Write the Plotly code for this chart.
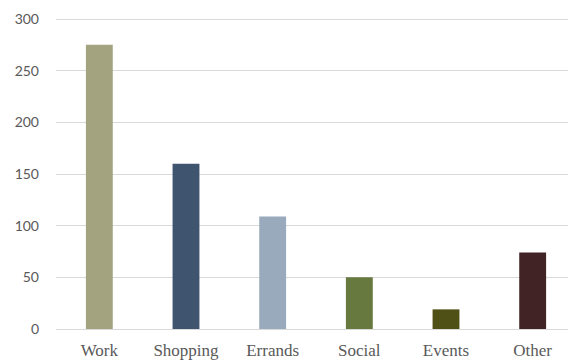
import plotly.graph_objects as go

categories = ["Work", "Shopping", "Errands", "Social", "Events", "Other"]
values = [275, 160, 109, 50, 19, 74]
colors = ["#A3A380", "#3F546E", "#98AABB", "#67793F", "#4F5016", "#412326"]
y_ticks = [0, 50, 100, 150, 200, 250, 300]

fig = go.Figure(go.Bar(x=categories, y=values, marker_color=colors, marker_line_width=0, width=0.31))

fig.update_layout(
    width=568, height=354,
    margin=dict(l=48, r=0, t=10, b=33),
    plot_bgcolor="white", paper_bgcolor="white",
    showlegend=False,
)
fig.update_xaxes(
    showgrid=False, showline=False, ticks="",
    tickfont=dict(family="Liberation Serif", size=17, color="#595959"),
    ticklabelstandoff=9,
)
fig.update_yaxes(
    range=[0, 301], tickvals=y_ticks,
    showgrid=True, gridcolor="#D9D9D9", gridwidth=1.3,
    zeroline=True, zerolinecolor="#D9D9D9", zerolinewidth=1.3,
    showline=False, ticks="",
    tickfont=dict(family="Lato", size=14, color="#595959"),
    ticklabelstandoff=16,
)

fig.write_html("out.html")
